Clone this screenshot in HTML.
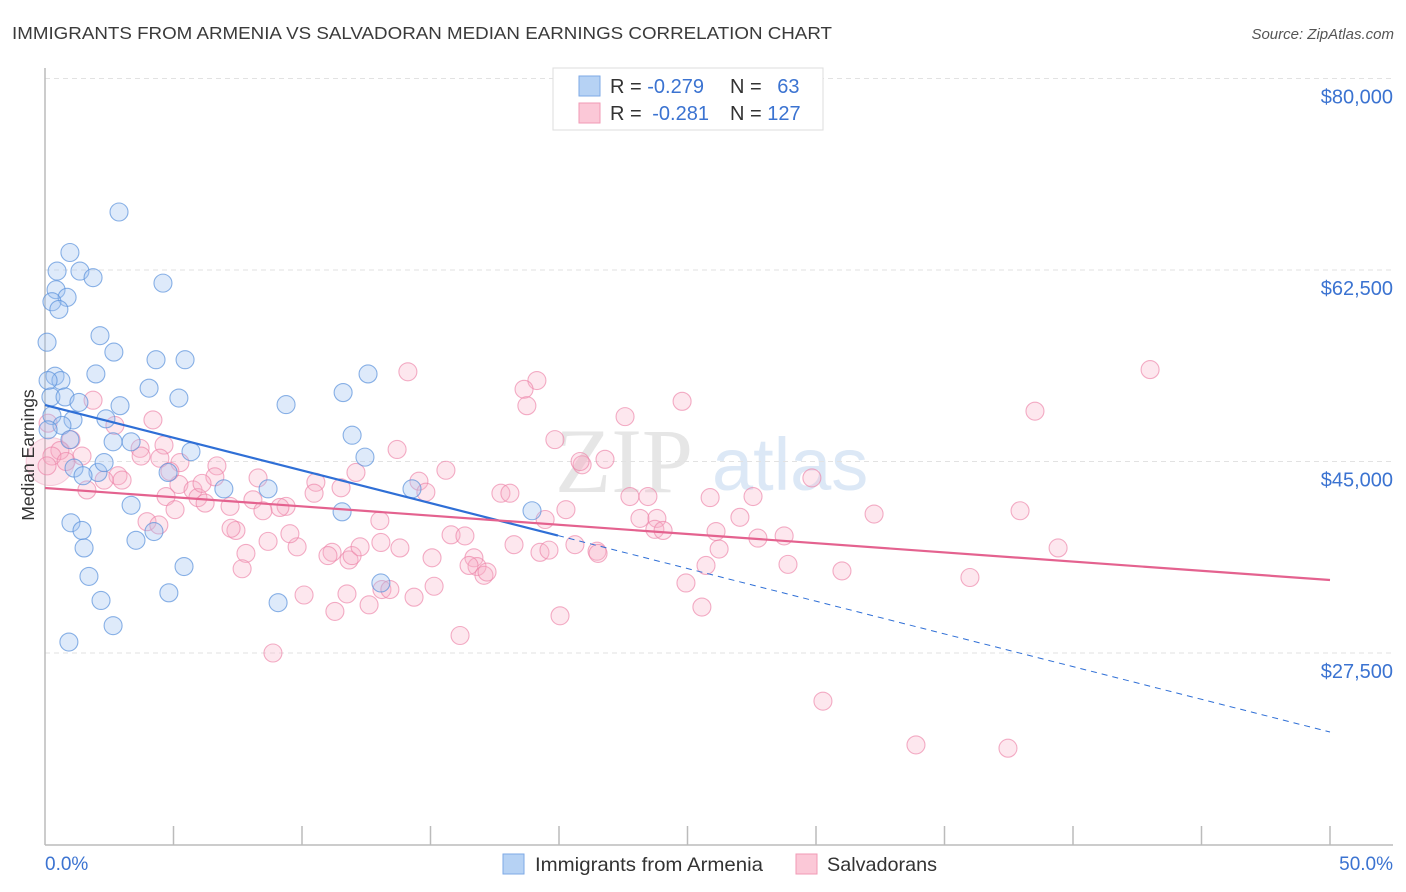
<!DOCTYPE html>
<html><head><meta charset="utf-8"><style>
body{margin:0;background:#fff;font-family:"Liberation Sans",sans-serif;}
svg{display:block}
</style></head><body>
<svg id="chart" width="1406" height="892" xmlns="http://www.w3.org/2000/svg">
<text x="12" y="39" font-size="17.5" fill="#3a3a3a" textLength="820" lengthAdjust="spacingAndGlyphs">IMMIGRANTS FROM ARMENIA VS SALVADORAN MEDIAN EARNINGS CORRELATION CHART</text>
<text x="1394" y="39" font-size="15" fill="#555" font-style="italic" text-anchor="end">Source: ZipAtlas.com</text>
<text x="555" y="492" font-size="92" fill="#e6e6e6" font-family="Liberation Serif,serif">ZIP</text>
<text x="712" y="490" font-size="74" fill="#dce8f6">atlas</text>
<g id="grid"></g>
<g id="axes"></g>
<g id="pts"></g>
<g id="lines"></g>
<text transform="translate(34,455) rotate(-90)" font-size="17.5" fill="#333" text-anchor="middle">Median Earnings</text>
<g>
<rect x="553" y="68" width="270" height="62" fill="#fff" stroke="#ddd"/>
<rect x="579" y="76" width="21" height="20" fill="#b6d2f4" stroke="#7ea9e6"/>
<rect x="579" y="103" width="21" height="20" fill="#fbc8d7" stroke="#f09ab5"/>
<text x="610" y="93" font-size="20" fill="#333">R = <tspan fill="#3b73d1">-0.279</tspan></text>
<text x="730" y="93" font-size="20" fill="#333">N = <tspan fill="#3b73d1" dx="10">63</tspan></text>
<text x="610" y="120" font-size="20" fill="#333">R = <tspan fill="#3b73d1" dx="5">-0.281</tspan></text>
<text x="730" y="120" font-size="20" fill="#333">N = <tspan fill="#3b73d1">127</tspan></text>
</g>
<g>
<rect x="503" y="854" width="21" height="20" fill="#b6d2f4" stroke="#7ea9e6"/>
<text x="535" y="871" font-size="19.5" fill="#333" textLength="228" lengthAdjust="spacingAndGlyphs">Immigrants from Armenia</text>
<rect x="796" y="854" width="21" height="20" fill="#fbc8d7" stroke="#f09ab5"/>
<text x="827" y="871" font-size="19.5" fill="#333" textLength="110" lengthAdjust="spacingAndGlyphs">Salvadorans</text>
</g>
</svg>
<script>
const yTicks=[27500,45000,62500,80000];
const yTickLabels=["$27,500","$45,000","$62,500","$80,000"];
const xTickLabels=["0.0%","50.0%"];
const blueX=[2.88,0.97,0.47,1.36,1.87,4.59,0.43,0.86,0.27,0.54,2.14,0.08,2.68,4.32,5.45,1.98,0.39,0.62,0.12,4.05,0.23,0.78,1.32,2.92,5.21,9.38,11.6,12.57,0.27,1.09,0.66,2.37,0.97,2.65,3.35,11.95,5.68,12.45,2.06,4.79,2.30,1.13,1.48,6.96,8.68,14.28,3.35,11.56,18.95,1.01,1.44,4.24,3.54,1.52,5.41,1.71,13.07,2.18,4.82,9.07,2.65,0.93,0.12];
const blueY=[67800,64100,62400,62400,61800,61300,60700,60000,59600,58900,56500,55900,55000,54300,54300,53000,52800,52400,52400,51700,50900,50900,50400,50100,50800,50200,51300,53000,49200,48800,48300,48900,47000,46800,46800,47400,45900,45400,44000,44000,44900,44400,43700,42500,42500,42500,41000,40400,40500,39400,38700,38600,37800,37100,35400,34500,33900,32300,33000,32100,30000,28500,47900];
const pinkX=[14.12,19.14,43.0,18.64,1.87,18.75,24.79,38.52,4.2,22.57,0.12,2.72,3.70,13.70,19.84,1.01,0.58,0.27,0.82,1.44,4.63,4.47,5.25,6.69,8.29,6.61,5.21,4.86,2.84,3.0,2.30,1.63,15.6,12.1,20.9,21.79,20.82,29.84,10.54,14.55,14.82,5.76,4.71,5.95,6.11,8.09,6.23,9.38,10.47,9.14,8.48,11.52,17.74,18.09,5.06,7.20,3.97,22.76,23.46,25.88,27.55,7.43,7.24,4.43,19.46,20.27,23.15,23.81,23.73,24.05,27.04,26.11,32.26,37.94,8.68,9.81,9.53,13.03,11.17,11.83,11.95,12.26,13.07,13.81,15.06,15.80,16.34,16.69,19.26,16.81,16.50,17.08,17.2,18.25,19.61,20.62,21.48,21.52,7.82,7.67,11.01,26.23,27.74,28.76,25.72,28.91,31.01,35.99,39.42,10.08,11.75,12.61,13.11,13.42,14.36,15.14,11.28,24.94,25.56,20.04,16.15,8.87,30.27,33.89,37.47,0.08,3.74];
const pinkY=[53200,52400,53400,51600,50600,50100,50500,49600,48800,49100,48500,48300,46200,46100,47000,47000,46000,45500,45000,45500,46500,45300,44900,44600,43500,43600,42900,44100,43700,43300,43300,42400,44200,44000,44700,45200,45000,43500,43100,43200,42200,42400,41800,41700,43000,41500,41200,40900,42100,40800,40500,42600,42100,42100,40600,40900,39500,41800,41800,41700,41800,38700,38900,39200,39700,40600,39800,39800,38800,38700,39900,38600,40200,40500,37700,37200,38400,39600,36700,36000,36400,37200,37600,37100,36200,38300,38200,36200,36700,35400,35500,34600,34900,37400,36900,37400,36800,36600,36600,35200,36400,37000,38000,38200,35500,35600,35000,34400,37100,32800,32900,31900,33300,33300,32600,33600,31300,33900,31700,30900,29100,27500,23100,19100,18800,44600,45500];
const blueTrend=[50160,20280]; const blueSolidEnd=19.96;
const pinkTrend=[42580,34170];
const NS="http://www.w3.org/2000/svg";
const X=p=>45+p*(1330-45)/50;
const Y=v=>653-(v-27500)*191.5/17500;
function mk(t,a,par){const e=document.createElementNS(NS,t);for(const k in a)e.setAttribute(k,a[k]);document.getElementById(par).appendChild(e);return e;}
yTicks.forEach((v,i)=>{
 const g=mk('line',{x1:45,x2:1393,y1:Y(v),y2:Y(v),stroke:'#e2e2e2','stroke-dasharray':'5,4'},'grid');
 
 
 const t=mk('text',{x:1393,y:Y(v)+25,'font-size':20,fill:'#3b73d1','text-anchor':'end'},'axes');
 t.textContent=yTickLabels[i];
 
 
});
let a=mk('line',{x1:45,x2:45,y1:68,y2:845,stroke:'#bbb','stroke-width':1.5},'axes');


a=mk('line',{x1:45,x2:1393,y1:845,y2:845,stroke:'#bbb','stroke-width':1.5},'axes');


for(let i=1;i<=10;i++){const t=mk('line',{x1:X(i*5),x2:X(i*5),y1:826,y2:845,stroke:'#bbb','stroke-width':1.5},'axes');
 
 }
let l=mk('text',{x:45,y:870,'font-size':19,fill:'#3b73d1'},'axes');l.textContent=xTickLabels[0];


l=mk('text',{x:1393,y:870,'font-size':19,fill:'#3b73d1','text-anchor':'end'},'axes');l.textContent=xTickLabels[1];


const big=mk('circle',{cx:X(0.2),cy:Y(45000),r:24,fill:'rgba(245,170,195,0.3)',stroke:'rgba(236,143,176,0.4)'},'pts');


pinkX.forEach((x,i)=>{const c=mk('circle',{cx:X(x),cy:Y(pinkY[i]),r:9,fill:'rgba(247,176,199,0.3)',stroke:'rgba(236,130,168,0.65)','stroke-width':1.1},'pts');
 
 });
blueX.forEach((x,i)=>{const c=mk('circle',{cx:X(x),cy:Y(blueY[i]),r:9,fill:'rgba(160,196,240,0.35)',stroke:'rgba(90,145,220,0.7)','stroke-width':1.1},'pts');
 
 });
const bAt=p=>blueTrend[0]+(blueTrend[1]-blueTrend[0])*p/50;
let t=mk('line',{x1:X(0),y1:Y(bAt(0)),x2:X(blueSolidEnd),y2:Y(bAt(blueSolidEnd)),stroke:'#2f6fd6','stroke-width':2.2},'lines');


t=mk('line',{x1:X(blueSolidEnd),y1:Y(bAt(blueSolidEnd)),x2:X(50),y2:Y(bAt(50)),stroke:'#2f6fd6','stroke-width':1,'stroke-dasharray':'6,5'},'lines');


t=mk('line',{x1:X(0),y1:Y(pinkTrend[0]),x2:X(50),y2:Y(pinkTrend[1]),stroke:'#e4628f','stroke-width':2.2},'lines');


</script>
</body></html>
